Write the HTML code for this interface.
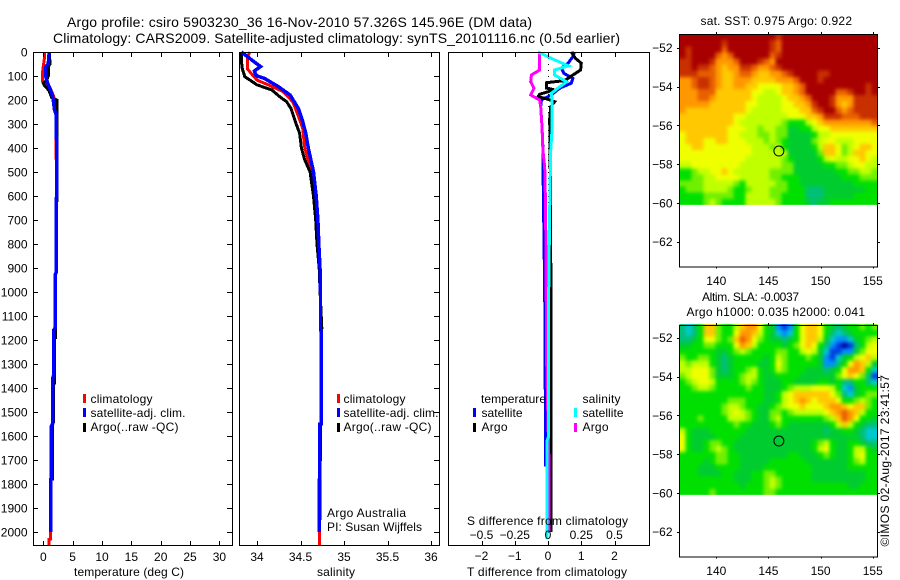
<!DOCTYPE html>
<html lang="en">
<head>
<meta charset="utf-8">
<title>Argo profile csiro 5903230_36</title>
<style>
html,body{margin:0;padding:0;background:#fff;}
body{width:900px;height:580px;overflow:hidden;}
svg{display:block;}
text{font-family:"Liberation Sans",sans-serif;font-size:12px;fill:#000;}
.title{font-size:14px;}
</style>
</head>
<body>
<svg id="chart" xmlns="http://www.w3.org/2000/svg" width="900" height="580" viewBox="0 0 900 580">
  <defs>
    <filter id="map-smooth" filterUnits="userSpaceOnUse" x="660" y="0" width="240" height="580" color-interpolation-filters="sRGB">
      <feGaussianBlur stdDeviation="1.8"/>
      <feComponentTransfer>
        <feFuncA type="linear" slope="50" intercept="0"/>
      </feComponentTransfer>
    </filter>
  </defs>
  <rect x="0" y="0" width="900" height="580" fill="#fff"/>
  <text class="title" x="67" y="27" textLength="465" lengthAdjust="spacing">Argo profile: csiro 5903230_36 16-Nov-2010 57.326S 145.96E (DM data)</text>
  <text class="title" x="53" y="43" textLength="567" lengthAdjust="spacing">Climatology: CARS2009. Satellite-adjusted climatology: synTS_20101116.nc (0.5d earlier)</text>

  <g id="map-sst"></g>
  <g id="map-sla"></g>
  <g id="panel-t"></g>
  <g id="panel-s"></g>
  <g id="panel-d"></g>

  <text x="74" y="576" textLength="110" lengthAdjust="spacing">temperature (deg C)</text>
  <text x="317" y="576" textLength="38" lengthAdjust="spacing">salinity</text>
  <text x="467" y="576" textLength="160" lengthAdjust="spacing">T difference from climatology</text>
  <text x="467" y="525" textLength="161" lengthAdjust="spacing">S difference from climatology</text>

  <g>
    <rect x="83" y="394" width="3" height="9" fill="#ff0000"/>
    <text x="90.5" y="403" textLength="62" lengthAdjust="spacing">climatology</text>
    <rect x="83" y="408" width="3" height="9" fill="#0000ff"/>
    <text x="90.5" y="417" textLength="95" lengthAdjust="spacing">satellite-adj. clim.</text>
    <rect x="83" y="423" width="3" height="9" fill="#000"/>
    <text x="90.5" y="431" textLength="88" lengthAdjust="spacing">Argo(..raw -QC)</text>
  </g>
  <g>
    <rect x="337" y="394" width="3" height="9" fill="#ff0000"/>
    <text x="343.5" y="403" textLength="62" lengthAdjust="spacing">climatology</text>
    <rect x="337" y="408" width="3" height="9" fill="#0000ff"/>
    <text x="343.5" y="417" textLength="95" lengthAdjust="spacing">satellite-adj. clim.</text>
    <rect x="337" y="423" width="3" height="9" fill="#000"/>
    <text x="343.5" y="431" textLength="88" lengthAdjust="spacing">Argo(..raw -QC)</text>
  </g>
  <text x="327" y="517" textLength="79" lengthAdjust="spacing">Argo Australia</text>
  <text x="327" y="531" textLength="95" lengthAdjust="spacing">PI: Susan Wijffels</text>

  <g>
    <text x="481" y="403" textLength="65" lengthAdjust="spacing">temperature</text>
    <rect x="473" y="408" width="3" height="9" fill="#0000ff"/>
    <text x="481.5" y="417" textLength="41" lengthAdjust="spacing">satellite</text>
    <rect x="473" y="423" width="3" height="9" fill="#000"/>
    <text x="481.5" y="431" textLength="26" lengthAdjust="spacing">Argo</text>
    <text x="582.5" y="403" textLength="38" lengthAdjust="spacing">salinity</text>
    <rect x="574" y="408" width="3" height="9" fill="#00ffff"/>
    <text x="582.5" y="417" textLength="41" lengthAdjust="spacing">satellite</text>
    <rect x="574" y="423" width="3" height="9" fill="#ff00ff"/>
    <text x="582.5" y="431" textLength="26" lengthAdjust="spacing">Argo</text>
  </g>

  <text x="700.5" y="25" textLength="151.5" lengthAdjust="spacing">sat. SST: 0.975 Argo: 0.922</text>
  <text x="702" y="301" textLength="97" lengthAdjust="spacing">Altim. SLA: -0.0037</text>
  <text x="686.5" y="316" textLength="178.5" lengthAdjust="spacing">Argo h1000: 0.035 h2000: 0.041</text>
  <text transform="translate(889 546.5) rotate(-90)" x="0" y="0" textLength="171.5" lengthAdjust="spacing">©IMOS 02-Aug-2017 23:41:57</text>
</svg>

<script>
// ---- shared axes data ----
const depthTicks = [0,100,200,300,400,500,600,700,800,900,1000,1100,1200,1300,1400,1500,1600,1700,1800,1900,2000];
const tempTicks = [0,5,10,15,20,25,30];
const salTicks = [34,34.5,35,35.5,36];
const dTTicks = [-2,-1,0,1,2];
const dSTicks = [-0.5,-0.25,0,0.25,0.5];
const lonTicks = [140,145,150,155];
const latTicks = [-52,-54,-56,-58,-60,-62];

// ---- temperature panel series ----
const tClimDepth = [0,30,50,80,100,120,135,150,175,200,240,260,360,600,620,920,930,1150,1160,1350,1360,1550,1560,1780,1781,2000,2004,2029,2030,2058];
const tClimValue = [0.17,0.17,0.05,-0.1,-0.15,-0.15,0.3,1.15,1.6,2.0,1.9,2.16,2.16,2.28,2.16,2.16,2.0,2.0,1.74,1.74,1.57,1.57,1.37,1.37,1.22,1.22,1.2,1.2,1.0,1.0];
const tArgoDepth = [0,50,60,100,120,130,140,160,190,200,360,620,621,920,930,1190,1191,1380,1381,1540,1541,1780,1781,1950];
const tArgoValue = [1.0,1.15,0.85,0.85,0.55,0.0,0.2,0.95,1.43,2.3,2.3,2.33,2.2,2.2,2.08,2.08,1.9,1.9,1.74,1.74,1.57,1.57,1.35,1.35];
const tSatDepth = [0,50,60,100,130,170,200,240,260,360,361,600,620,920,930,1150,1160,1350,1360,1550,1560,1780,1781,2000];
const tSatValue = [1.0,0.85,0.45,0.4,0.75,1.43,1.7,1.9,2.16,2.16,2.28,2.28,2.16,2.16,2.0,2.0,1.74,1.74,1.57,1.57,1.37,1.37,1.22,1.22];

// ---- salinity panel series ----
const sClimDepth = [0,20,70,88,117,137,165,207,262,318,400,480,500,600,700,800,900,1000,1159,1160,1550,1551,1780,1781,2000,2058];
const sClimValue = [33.92,33.89,33.89,33.93,34.0,34.13,34.3,34.41,34.47,34.525,34.55,34.61,34.645,34.68,34.70,34.71,34.724,34.73,34.73,34.74,34.74,34.72,34.72,34.716,34.716,34.716];
const sArgoDepth = [0,33,68,103,117,137,158,186,207,235,290,338,400,450,500,600,700,800,900,1000,1150,1151,1550,1551,1700,1701,1950];
const sArgoValue = [33.82,33.82,33.83,33.86,33.92,34.0,34.17,34.26,34.34,34.39,34.44,34.49,34.51,34.55,34.61,34.65,34.675,34.69,34.715,34.725,34.745,34.74,34.74,34.73,34.73,34.727,34.727];
const sSatDepth = [0,61,79,98,111,144,179,235,290,338,400,500,600,700,800,900,1000,1159,1160,1550,1551,1780,1781,2000];
const sSatValue = [33.82,34.04,33.97,33.99,34.09,34.245,34.38,34.475,34.525,34.56,34.59,34.65,34.68,34.70,34.71,34.724,34.73,34.73,34.74,34.74,34.72,34.72,34.716,34.716];

// ---- difference panel series ----
const dTSatDepth = [0,19,47,68,89,110,130,151,179,200,228,311,410,480,1000,1728];
const dTSatValue = [0.8,0.75,0.6,0.4,0.48,0.75,0.7,0.35,0.1,-0.2,-0.22,-0.18,-0.15,-0.15,-0.1,-0.07];
const dTArgoDepth = [0,26,47,75,96,119,128,150,158,176,186,197,207,228,283,650,2000];
const dTArgoValue = [0.7,0.82,1.0,0.98,0.75,0.5,-0.05,-0.05,0.2,-0.25,-0.3,0.0,0.2,0.08,0.05,0.08,0.09];
const dSArgoDepth = [0,75,96,124,151,179,200,228,311,410,480,650,1300,1720,2000];
const dSArgoValue = [-0.063,-0.063,-0.125,-0.13,-0.105,-0.13,-0.063,-0.055,-0.045,-0.038,-0.025,-0.018,-0.01,0.0075,0.0075];
const dSSatDepth = [0,33,58,75,96,124,144,172,200,255,325,410,650,1000,1600,1620,2030];
const dSSatValue = [-0.075,0.05,0.155,0.05,0.05,0.14,0.09,0.025,0.03,0.03,0.03,0.02,0.0125,0.005,0.005,-0.0075,-0.0075];

// ---- map colour scale + gridded values (colour level per cell, north to south) ----
const mapLevelColors = ['#0000a0','#0040e0','#0090ff','#00c8d0','#00c078','#00cc30','#00e000','#70f000','#c0ff00','#f0ff00','#ffc800','#ff9800','#e86000','#c83000','#a80000'];
const sstLevels = [
[14,14,14,14,14,14,14,14,14,14,14,14,14,14,14,14,13,14,14,14,14,14,14,14,14,14,14,14,14,14,14,14,14],
[14,14,14,14,14,14,14,13,14,14,14,14,14,14,14,13,12,14,14,14,14,14,14,14,14,14,14,14,14,14,14,14,14],
[14,13,14,14,14,14,14,12,14,14,14,14,14,14,14,13,12,14,14,14,14,14,14,14,14,14,14,14,14,14,14,14,14],
[14,13,14,14,14,14,12,11,12,14,14,14,14,14,14,12,13,14,14,14,14,14,14,14,14,14,14,14,14,14,14,14,14],
[13,13,14,14,14,13,11,11,11,12,14,14,14,13,12,11,14,14,14,14,14,14,14,14,14,14,14,14,14,14,14,14,14],
[13,13,14,13,13,12,11,10,11,11,13,13,12,11,11,12,13,14,14,14,14,14,14,14,14,14,14,14,14,14,14,14,14],
[13,13,13,12,12,12,11,10,10,11,12,12,11,10,10,11,11,12,13,14,14,14,14,13,13,14,14,14,14,14,14,14,14],
[11,11,12,13,13,12,11,10,10,11,11,11,10,10,10,10,11,11,11,12,14,14,14,13,14,14,14,14,14,14,14,14,14],
[11,11,12,13,13,12,11,10,10,11,11,10,10,9,9,9,9,10,10,11,12,14,14,14,14,14,14,14,14,14,14,13,14],
[11,11,11,12,12,12,10,10,10,10,10,10,9,9,8,8,9,10,10,11,12,14,14,14,14,14,12,12,13,14,14,13,14],
[11,11,11,12,12,11,10,10,10,10,10,10,9,8,8,8,8,9,10,10,11,12,14,14,14,13,11,11,11,13,13,13,13],
[11,11,11,11,11,10,10,10,10,10,10,9,9,8,8,8,8,9,9,10,10,11,13,14,14,13,11,10,11,13,13,13,13],
[11,10,10,10,10,10,10,10,10,10,10,9,8,8,8,8,8,9,9,9,10,10,12,13,14,14,12,11,12,13,13,13,13],
[10,10,10,10,10,10,10,10,10,9,9,8,8,8,8,8,8,8,9,9,9,10,10,11,13,13,13,12,12,12,13,13,13],
[10,10,10,10,10,10,10,10,10,9,8,8,8,8,8,8,8,7,6,6,6,8,9,10,11,11,11,11,11,11,11,11,12],
[10,10,10,10,10,10,10,10,9,9,9,8,8,7,8,8,7,7,5,5,6,6,8,9,9,10,10,10,10,10,10,10,10],
[9,10,10,10,10,10,10,10,9,9,8,8,8,7,7,8,7,7,5,5,5,5,6,8,8,9,9,9,9,9,9,9,9],
[9,10,10,10,9,9,10,10,9,9,9,8,8,8,7,8,7,6,5,5,5,5,7,8,9,9,8,8,8,9,9,9,9],
[9,9,10,10,9,9,9,9,9,9,9,9,8,8,8,7,8,6,5,5,5,5,6,8,10,10,9,7,8,9,10,10,9],
[9,9,9,9,9,9,9,9,9,9,9,9,8,8,8,8,8,8,5,5,5,5,5,7,10,10,9,7,8,10,10,9,9],
[9,9,9,9,9,9,9,9,9,9,9,8,8,8,8,8,8,7,6,5,5,5,5,6,8,9,8,8,9,9,10,9,8],
[8,8,9,9,9,9,9,9,9,9,8,8,8,8,8,8,8,7,7,5,5,5,5,5,6,6,7,7,8,9,9,8,8],
[6,6,7,8,8,9,9,10,9,8,8,8,8,8,8,7,7,7,7,5,5,5,5,5,5,5,6,6,7,7,8,8,7],
[6,6,7,7,8,8,9,9,9,9,8,8,8,8,8,7,7,6,6,6,5,5,5,5,5,5,5,6,6,6,7,7,7],
[7,7,7,7,8,8,8,8,8,7,6,8,8,8,8,8,7,7,6,6,5,5,5,5,5,5,5,5,5,6,6,6,6],
[6,7,7,7,8,8,8,8,7,6,6,7,8,8,8,7,7,7,6,6,6,4,4,4,5,5,5,5,5,5,5,6,6],
[6,6,6,6,7,7,7,7,7,6,6,8,8,8,8,7,7,6,6,6,6,4,4,4,5,5,5,5,5,6,6,6,6],
[6,6,6,6,7,8,7,6,6,6,6,8,8,8,8,8,7,6,6,6,6,5,4,5,5,6,6,6,6,6,6,6,6]
];
const slaLevels = [
[4,3,4,6,10,10,7,6,6,8,10,11,11,9,6,5,2,1,2,6,9,10,10,9,6,5,4,5,6,6,7,6,7],
[4,3,4,6,10,10,7,6,6,9,11,11,10,8,6,5,3,2,3,6,9,10,10,9,6,4,3,4,5,6,6,6,6],
[4,4,5,6,9,9,7,6,7,10,12,11,9,7,6,5,5,4,5,6,9,10,10,8,5,3,2,2,3,5,6,7,8],
[5,5,6,6,7,7,6,6,6,9,11,10,8,6,6,6,6,5,6,7,9,10,9,6,4,2,1,0,1,4,6,8,9],
[6,6,6,6,6,6,5,5,6,7,8,7,6,6,6,6,7,7,6,6,8,9,8,5,3,1,1,2,2,5,7,9,9],
[7,6,6,7,7,6,5,4,5,6,6,6,6,6,5,6,8,7,6,6,6,7,6,5,2,1,3,5,6,8,9,10,8],
[8,7,8,8,8,6,5,4,5,6,6,6,6,5,5,6,9,7,6,6,6,6,6,5,2,2,4,6,9,11,10,8,5],
[8,8,9,9,9,7,5,4,5,6,6,7,8,6,5,6,8,7,6,6,6,5,5,5,4,5,6,9,11,11,10,6,3],
[7,8,9,9,9,7,5,5,5,6,7,8,8,6,5,5,6,6,6,6,5,5,5,5,5,5,7,9,10,9,7,4,1],
[6,7,8,9,9,8,6,6,6,6,7,8,7,6,5,5,5,6,6,5,5,5,5,6,6,5,6,4,4,6,6,4,3],
[6,6,7,8,8,7,6,6,6,6,6,7,6,6,5,5,5,6,7,8,8,8,9,9,9,8,6,3,2,5,6,6,6],
[6,6,6,6,6,6,6,6,6,6,6,6,6,6,5,5,6,8,9,10,10,10,10,10,10,9,7,4,3,5,6,7,7],
[6,6,6,6,6,6,6,6,7,7,7,6,6,6,5,5,6,8,9,10,11,10,9,10,10,10,9,6,6,7,8,7,6],
[6,6,6,6,6,6,6,7,8,8,7,6,6,5,5,6,7,8,9,9,10,9,9,9,10,11,11,10,9,10,10,7,6],
[6,6,6,6,6,6,6,7,8,9,8,7,6,5,5,7,7,6,7,8,8,8,8,8,9,10,11,12,11,10,8,6,6],
[6,6,6,7,6,6,6,6,8,8,8,7,6,5,5,7,8,6,6,6,6,6,6,6,7,8,10,12,11,9,6,6,5],
[6,6,6,6,6,6,6,6,6,7,6,6,5,5,5,6,7,6,5,5,5,5,5,5,5,6,8,10,8,6,5,4,4],
[8,6,5,5,5,6,6,6,6,6,6,5,5,5,5,5,5,5,5,5,5,5,5,5,4,5,5,6,6,5,4,3,3],
[9,6,5,5,5,5,6,6,6,6,5,5,5,5,5,5,5,5,5,5,5,5,5,5,5,5,5,5,5,5,4,3,3],
[9,6,5,5,6,7,7,6,6,5,5,5,5,5,5,5,5,5,5,5,5,5,6,7,8,6,5,5,6,6,5,4,4],
[9,6,5,5,6,7,8,7,6,5,5,5,5,5,5,5,5,5,5,5,5,5,6,8,9,6,5,5,6,8,8,6,5],
[6,6,6,6,6,6,7,7,6,6,5,5,5,5,5,5,5,5,6,6,5,5,5,6,7,6,5,5,6,8,9,6,6],
[6,6,6,6,5,6,7,7,6,6,5,5,5,5,5,6,6,6,6,6,6,5,5,5,5,5,5,5,6,7,8,6,6],
[6,6,6,5,5,5,6,6,6,6,5,5,5,5,6,6,6,6,6,6,6,6,5,5,5,5,5,5,6,6,6,6,6],
[6,6,6,5,5,5,5,6,6,5,5,5,6,6,7,7,6,6,6,6,6,6,5,5,5,5,5,5,5,5,5,6,6],
[6,6,6,6,6,6,6,6,6,5,5,5,6,6,7,8,7,6,6,6,6,6,5,5,5,5,5,5,5,5,5,6,6],
[6,6,6,6,6,6,6,6,6,6,5,6,6,6,7,8,7,6,6,6,6,6,6,6,6,6,6,6,5,5,6,6,6],
[6,6,6,6,6,7,6,6,6,6,6,6,6,6,7,7,6,6,6,6,6,6,6,6,6,6,6,6,6,6,6,6,6]
];
const profileLon = [146.0];
const profileLat = [-57.326];

// ---- axis functions ----
const NS = 'http://www.w3.org/2000/svg';
const yDepth = d => 52 + d * 0.24;
const xTemp = t => 43.3 + t * 5.87;
const xSal = s => 257 + (s - 34) * 87;
const xDT = t => 548 + t * 33.25;
const xDS = s => 548 + s * 133;
const xLon = lon => 716.3 + (lon - 140) * 10.43;
const yLatSst = lat => 47.7 + (-52 - lat) * 19.4;
const yLatSla = lat => 337.7 + (-52 - lat) * 19.4;
const fmt = v => String(v).replace('-', '\u2212');
const gridLonStart = 136.47, gridLonStep = 0.5754;
const gridLatStart = -51.3, gridLatStep = 0.3143;

function mk(parent, tag, attrs, txt) {
  const el = document.createElementNS(NS, tag);
  for (const k in attrs) el.setAttribute(k, attrs[k]);
  if (txt !== undefined) el.textContent = txt;
  parent.appendChild(el);
  return el;
}

function drawFrame(g, x0, x1) {
  const el = mk(g, 'rect', {x: x0 + 0.5, y: 52.5, width: x1 - x0, height: 493, fill: 'none', stroke: '#000', 'stroke-width': 1, 'shape-rendering': 'crispEdges'});
  
  
}

function drawXTicks(g, ticks, xf, labelY, withLabels) {
  ticks.forEach(v => {
    const x = Math.round(xf(v)) + 0.5;
    const top = mk(g, 'line', {x1: x, x2: x, y1: 52, y2: 57, stroke: '#000', 'shape-rendering': 'crispEdges'});
    
    
    const bottom = mk(g, 'line', {x1: x, x2: x, y1: 541, y2: 546, stroke: '#000', 'shape-rendering': 'crispEdges'});
    
    
    if (withLabels) {
      const label = mk(g, 'text', {x: xf(v), y: labelY, 'text-anchor': 'middle'}, fmt(v));
      
      
    }
  });
}

function drawDepthTicks(g, xLeft, xRight, labels) {
  depthTicks.forEach(d => {
    const y = Math.round(yDepth(d)) + 0.5;
    if (xLeft !== null) {
      const l = mk(g, 'line', {x1: xLeft, x2: xLeft + 5, y1: y, y2: y, stroke: '#000', 'shape-rendering': 'crispEdges'});
      
      
    }
    if (xRight !== null) {
      const r = mk(g, 'line', {x1: xRight - 5, x2: xRight, y1: y, y2: y, stroke: '#000', 'shape-rendering': 'crispEdges'});
      
      
    }
    if (labels) {
      const t = mk(g, 'text', {x: 27.5, y: yDepth(d) + 4.5, 'text-anchor': 'end'}, d);
      
      
    }
  });
}

function seriesPoints(depths, values, xf) {
  return depths.map((d, i) => xf(values[i]).toFixed(1) + ',' + yDepth(d).toFixed(1)).join(' ');
}

function drawSeries(g, depths, values, xf, color, width) {
  return mk(g, 'polyline', {points: seriesPoints(depths, values, xf), fill: 'none', stroke: color, 'stroke-width': width, 'stroke-linejoin': 'miter', 'shape-rendering': 'crispEdges'});
}

function drawMap(g, levels, yLat, frameTop, frameBottom, labelY, clipId) {
  const clip = mk(g, 'clipPath', {id: clipId});
  mk(clip, 'rect', {x: xLon(gridLonStart), y: yLat(gridLatStart), width: levels[0].length * gridLonStep * 10.43, height: yLat(gridLatStart - levels.length * gridLatStep) - yLat(gridLatStart)});
  const clipped = mk(g, 'g', {'clip-path': 'url(#' + clipId + ')'});
  
  
  const smooth = mk(clipped, 'g', {filter: 'url(#map-smooth)'});
  
  
  levels.forEach((row, r) => {
    row.forEach((v, c) => {
      const x0 = xLon(gridLonStart + c * gridLonStep);
      const x1 = xLon(gridLonStart + (c + 1) * gridLonStep);
      const y0 = yLat(gridLatStart - r * gridLatStep);
      const y1 = yLat(gridLatStart - (r + 1) * gridLatStep);
      const cell = mk(smooth, 'rect', {x: x0.toFixed(2), y: y0.toFixed(2), width: (x1 - x0 + 0.4).toFixed(2), height: (y1 - y0 + 0.4).toFixed(2), fill: mapLevelColors[v], 'shape-rendering': 'crispEdges'});
      
      
    });
  });
  const frame = mk(g, 'rect', {x: 679.5, y: frameTop + 0.5, width: 198, height: frameBottom - frameTop, fill: 'none', stroke: '#000', 'shape-rendering': 'crispEdges'});
  
  
  lonTicks.forEach(v => {
    const x = Math.round(xLon(v)) + 0.5;
    const t1 = mk(g, 'line', {x1: x, x2: x, y1: frameTop - 2, y2: frameTop, stroke: '#000', 'shape-rendering': 'crispEdges'});
    
    
    const t2 = mk(g, 'line', {x1: x, x2: x, y1: frameBottom, y2: frameBottom + 2, stroke: '#000', 'shape-rendering': 'crispEdges'});
    
    
    const lab = mk(g, 'text', {x: xLon(v), y: labelY, 'text-anchor': 'middle'}, v);
    
    
  });
  latTicks.forEach(v => {
    const y = Math.round(yLat(v)) + 0.5;
    const t1 = mk(g, 'line', {x1: 677, x2: 679.5, y1: y, y2: y, stroke: '#000', 'shape-rendering': 'crispEdges'});
    
    
    const t2 = mk(g, 'line', {x1: 877.5, x2: 880, y1: y, y2: y, stroke: '#000', 'shape-rendering': 'crispEdges'});
    
    
    const lab = mk(g, 'text', {x: 672.5, y: yLat(v) + 4.5, 'text-anchor': 'end'}, fmt(v));
    
    
  });
  const marker = mk(g, 'circle', {cx: xLon(profileLon[0]), cy: yLat(profileLat[0]), r: 5, fill: 'none', stroke: '#000', 'stroke-width': 1});
  
  
}

// ---- temperature panel ----
const gT = document.getElementById('panel-t');
const tClimLine = drawSeries(gT, tClimDepth, tClimValue, xTemp, '#ff0000', 3);


const tArgoLine = drawSeries(gT, tArgoDepth, tArgoValue, xTemp, '#000000', 3);


const tSatLine = drawSeries(gT, tSatDepth, tSatValue, xTemp, '#0000ff', 3.5);


drawFrame(gT, 33, 232);
drawDepthTicks(gT, 33, 232, true);
drawXTicks(gT, tempTicks, xTemp, 561, true);

// ---- salinity panel ----
const gS = document.getElementById('panel-s');
const sClimLine = drawSeries(gS, sClimDepth, sClimValue, xSal, '#ff0000', 3);


const sArgoLine = drawSeries(gS, sArgoDepth, sArgoValue, xSal, '#000000', 3);


const sSatLine = drawSeries(gS, sSatDepth, sSatValue, xSal, '#0000ff', 3.5);


drawFrame(gS, 239, 439);
drawDepthTicks(gS, null, 439, false);
drawXTicks(gS, salTicks, xSal, 561, true);

// ---- difference panel ----
const gD = document.getElementById('panel-d');
const zeroLine = mk(gD, 'line', {x1: 548.5, x2: 548.5, y1: 52, y2: 545, stroke: '#000', 'stroke-dasharray': '1 5', 'shape-rendering': 'crispEdges'});


const dTSatLine = drawSeries(gD, dTSatDepth, dTSatValue, xDT, '#0000ff', 3);


const dTArgoLine = drawSeries(gD, dTArgoDepth, dTArgoValue, xDT, '#000000', 3);


const dSArgoLine = drawSeries(gD, dSArgoDepth, dSArgoValue, xDS, '#ff00ff', 3);


const dSSatLine = drawSeries(gD, dSSatDepth, dSSatValue, xDS, '#00ffff', 3);


drawFrame(gD, 448, 649);
drawXTicks(gD, dTTicks, xDT, 560, true);
dSTicks.forEach(v => {
  const lab = mk(gD, 'text', {x: xDS(v), y: 539, 'text-anchor': 'middle'}, fmt(v));
  
  
});

// ---- maps ----
drawMap(document.getElementById('map-sst'), sstLevels, yLatSst, 34, 266.5, 285, 'clip-sst');
drawMap(document.getElementById('map-sla'), slaLevels, yLatSla, 325, 556.5, 575, 'clip-sla');
</script>
</body>
</html>
